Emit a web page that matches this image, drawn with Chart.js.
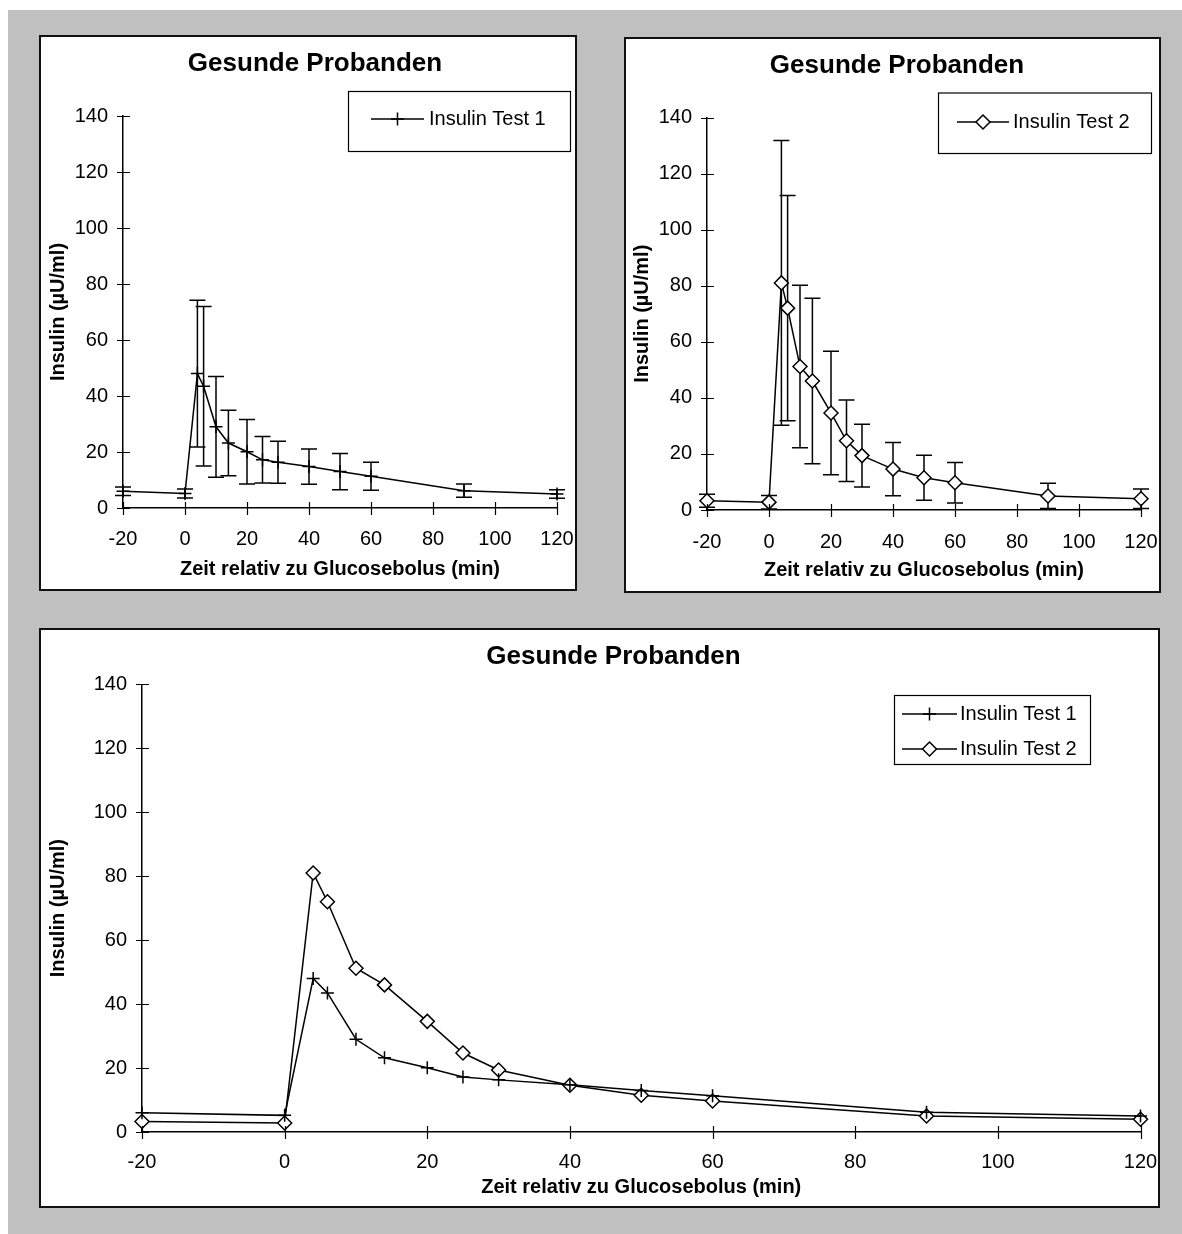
<!DOCTYPE html>
<html>
<head>
<meta charset="utf-8">
<title>Gesunde Probanden</title>
<script src="https://cdn.jsdelivr.net/npm/chart.js@4"></script>
<style>
html, body { margin: 0; padding: 0; background: #fff; overflow: hidden; }
#seite { position: relative; width: 1182px; height: 1234px; overflow: hidden; }
#grau { position: absolute; left: 8px; top: 10px; width: 1174px; height: 1224px; background: #c0c0c0; }
.panel { position: absolute; background: #fff; border: 2px solid #111; box-sizing: border-box; }
canvas { position: absolute; }
</style>
</head>
<body>
<div id="seite">
  <div id="grau"></div>
  <div class="panel" style="left:39px;top:35px;width:538px;height:556px"></div>
  <div class="panel" style="left:624px;top:37px;width:537px;height:556px"></div>
  <div class="panel" style="left:39px;top:628px;width:1121px;height:580px"></div>
  <canvas id="c1" width="548" height="552" style="left:41px;top:37px"></canvas>
  <canvas id="c2" width="542" height="551" style="left:626px;top:39px"></canvas>
  <canvas id="c3" width="1145" height="575" style="left:41px;top:630px"></canvas>
</div>
<script>
// Messzeitpunkte (min relativ zum Glucosebolus)
const zeit = [-20, 0, 4, 6, 10, 14, 20, 25, 30, 40, 50, 60, 90, 120];

// Insulin Test 1: Mittelwert und Standardabweichung
const insulinTest1 = [6.0, 5.2, 48, 43.5, 29, 23.2, 20.1, 17.2, 16.3, 14.8, 13, 11.3, 6.2, 5.0];
const sdTest1 = [1.5, 1.6, 26.2, 28.5, 18, 11.7, 11.5, 8.3, 7.5, 6.3, 6.5, 5, 2.4, 1.5];

// Insulin Test 2
const insulinTest2 = [3.3, 2.8, 81, 72, 51.2, 46, 34.6, 24.7, 19.4, 14.6, 11.5, 9.7, 5.0, 4.0];
const sdTest2 = [2.3, 2.4, 50.8, 40.2, 29, 29.5, 22, 14.5, 11.2, 9.5, 8, 7.2, 4.5, 3.5];

const xTickWerte = [-20, 0, 20, 40, 60, 80, 100, 120];
const yTickWerte = [0, 20, 40, 60, 80, 100, 120, 140];

const titel = 'Gesunde Probanden';
const xTitel = 'Zeit relativ zu Glucosebolus (min)';
const yTitel = 'Insulin (µU/ml)';
const label1 = 'Insulin Test 1';
const label2 = 'Insulin Test 2';

Chart.defaults.font.family = '"Liberation Sans", Arial, sans-serif';
Chart.defaults.color = '#000';

function marker(ctx, stil, x, y) {
    ctx.strokeStyle = '#000';
    ctx.lineWidth = 1.5;
    ctx.beginPath();
    if (stil === 'cross') {
        ctx.moveTo(x - 6.5, y); ctx.lineTo(x + 6.5, y);
        ctx.moveTo(x, y - 6.5); ctx.lineTo(x, y + 6.5);
        ctx.stroke();
    } else {
        ctx.moveTo(x, y - 7); ctx.lineTo(x + 7, y);
        ctx.lineTo(x, y + 7); ctx.lineTo(x - 7, y);
        ctx.closePath();
        ctx.fillStyle = '#fff';
        ctx.fill();
        ctx.stroke();
    }
}

// Fehlerbalken (± SD) über die Skalen des Diagramms
const fehlerbalken = {
    id: 'fehlerbalken',
    beforeDatasetsDraw(chart, args, opts) {
        if (!opts.reihen) return;
        const { ctx, scales: { x, y } } = chart;
        ctx.save();
        ctx.strokeStyle = '#000';
        ctx.lineWidth = 1.5;
        opts.reihen.forEach(r => {
            zeit.forEach((t, i) => {
                const px = x.getPixelForValue(t);
                const oben = y.getPixelForValue(r.mittel[i] + r.sd[i]);
                const unten = y.getPixelForValue(r.mittel[i] - r.sd[i]);
                ctx.beginPath();
                ctx.moveTo(px, oben); ctx.lineTo(px, unten);
                ctx.moveTo(px - 8, oben); ctx.lineTo(px + 8, oben);
                ctx.moveTo(px - 8, unten); ctx.lineTo(px + 8, unten);
                ctx.stroke();
            });
        });
        ctx.restore();
    }
};

// Teilstriche, die die Achse kreuzen
const kreuzTicks = {
    id: 'kreuzTicks',
    afterDraw(chart) {
        const { ctx, chartArea, scales: { x, y } } = chart;
        ctx.save();
        ctx.strokeStyle = '#000';
        ctx.lineWidth = 1.2;
        ctx.beginPath();
        x.ticks.forEach(t => {
            const px = Math.round(x.getPixelForValue(t.value)) + 0.5;
            ctx.moveTo(px, chartArea.bottom - 6);
            ctx.lineTo(px, chartArea.bottom + 7);
        });
        y.ticks.forEach(t => {
            const py = Math.round(y.getPixelForValue(t.value)) + 0.5;
            ctx.moveTo(chartArea.left - 6, py);
            ctx.lineTo(chartArea.left + 7, py);
        });
        ctx.stroke();
        ctx.restore();
    }
};

const legende = {
    id: 'legende',
    afterDraw(chart, args, o) {
        if (o.links === undefined) return;
        const ctx = chart.ctx;
        ctx.save();
        ctx.fillStyle = '#fff';
        ctx.fillRect(o.links, o.oben, o.breite, o.hoehe);
        ctx.strokeStyle = '#000';
        ctx.lineWidth = 1.2;
        ctx.strokeRect(o.links + 0.5, o.oben + 0.5, o.breite, o.hoehe);
        chart.data.datasets.forEach((ds, i) => {
            const y = o.oben + o.zeile0 + i * o.abstand;
            const x0 = o.links + o.linie;
            ctx.strokeStyle = '#000';
            ctx.lineWidth = 1.5;
            ctx.beginPath();
            ctx.moveTo(x0, y); ctx.lineTo(x0 + o.laenge, y);
            ctx.stroke();
            marker(ctx, ds.pointStyle, x0 + o.laenge / 2, y);
            ctx.fillStyle = '#000';
            ctx.font = '20px "Liberation Sans", Arial, sans-serif';
            ctx.textBaseline = 'middle';
            ctx.textAlign = 'left';
            ctx.fillText(ds.label, o.links + o.text, y);
        });
        ctx.restore();
    }
};

function reihe(label, werte, stil) {
    return {
        label: label,
        data: zeit.map((t, i) => ({ x: t, y: werte[i] })),
        borderColor: '#000',
        borderWidth: 1.5,
        pointStyle: stil,
        pointRadius: stil === 'cross' ? 6.5 : 7,
        pointHoverRadius: stil === 'cross' ? 6.5 : 7,
        pointBorderColor: '#000',
        pointBackgroundColor: '#fff',
        pointBorderWidth: 1.5,
        tension: 0,
        clip: false
    };
}

function diagramm(id, datasets, balken, lage) {
    return new Chart(document.getElementById(id), {
        type: 'line',
        data: { datasets: datasets },
        plugins: [fehlerbalken, kreuzTicks, legende],
        options: {
            responsive: false,
            animation: false,
            events: [],
            // linker Rand verschiebt den Titel; die y-Achse wird dafür schmaler
            layout: { padding: { left: lage.links, right: lage.rechts, top: 0, bottom: 0 } },
            plugins: {
                legend: { display: false },
                tooltip: { enabled: false },
                title: {
                    display: true,
                    text: titel,
                    color: '#000',
                    font: { size: 26, weight: 'bold' },
                    padding: { top: 11, bottom: lage.titelUnten }
                },
                fehlerbalken: { reihen: balken },
                legende: lage.legende
            },
            scales: {
                x: {
                    type: 'linear',
                    min: -20,
                    max: 120,
                    afterBuildTicks: s => { s.ticks = xTickWerte.map(v => ({ value: v })); },
                    afterFit: s => { s.height = lage.xHoehe; s.paddingLeft = 0; s.paddingRight = 0; },
                    grid: { display: false, drawTicks: false },
                    border: { display: true, color: '#000', width: 1.5 },
                    ticks: { font: { size: 20 }, color: '#000', padding: lage.xPad, maxRotation: 0, autoSkip: false },
                    title: {
                        display: true, text: xTitel, color: '#000',
                        font: { size: 20, weight: 'bold' },
                        padding: { top: 0, bottom: lage.xTitelPad }
                    }
                },
                y: {
                    type: 'linear',
                    min: 0,
                    max: 140,
                    afterBuildTicks: s => { s.ticks = yTickWerte.map(v => ({ value: v })); },
                    afterFit: s => { s.width = lage.yBreite; s.paddingTop = 0; s.paddingBottom = 0; },
                    grid: { display: false, drawTicks: false },
                    border: { display: true, color: '#000', width: 1.5 },
                    ticks: { font: { size: 20 }, color: '#000', padding: 15 },
                    title: {
                        display: true, text: yTitel, color: '#000',
                        font: { size: 20, weight: 'bold' },
                        padding: { top: lage.yTitelPad, bottom: 0 }
                    }
                }
            }
        }
    });
}

diagramm('c1',
    [reihe(label1, insulinTest1, 'cross')],
    [{ mittel: insulinTest1, sd: sdTest1 }],
    { links: 32, rechts: 32, titelUnten: 36.8, xHoehe: 81, xPad: 19.6, xTitelPad: 8, yBreite: 50, yTitelPad: -27,
      legende: { links: 307, oben: 54, breite: 222, hoehe: 60, zeile0: 28, abstand: 35, linie: 23, laenge: 53, text: 81 } });

diagramm('c2',
    [reihe(label2, insulinTest2, 'rectRot')],
    [{ mittel: insulinTest2, sd: sdTest2 }],
    { links: 27, rechts: 27, titelUnten: 36.3, xHoehe: 80, xPad: 20, xTitelPad: 8, yBreite: 54, yTitelPad: -23,
      legende: { links: 312, oben: 53.5, breite: 213, hoehe: 60.5, zeile0: 29.5, abstand: 35, linie: 19, laenge: 52, text: 75 } });

diagramm('c3',
    [reihe(label1, insulinTest1, 'cross'), reihe(label2, insulinTest2, 'rectRot')],
    null,
    { links: 45.5, rechts: 45.5, titelUnten: 12.1, xHoehe: 73, xPad: 18.6, xTitelPad: 6, yBreite: 55.5, yTitelPad: -40.5,
      legende: { links: 853, oben: 65, breite: 196, hoehe: 69, zeile0: 19, abstand: 35, linie: 8, laenge: 55, text: 66 } });
</script>
</body>
</html>
